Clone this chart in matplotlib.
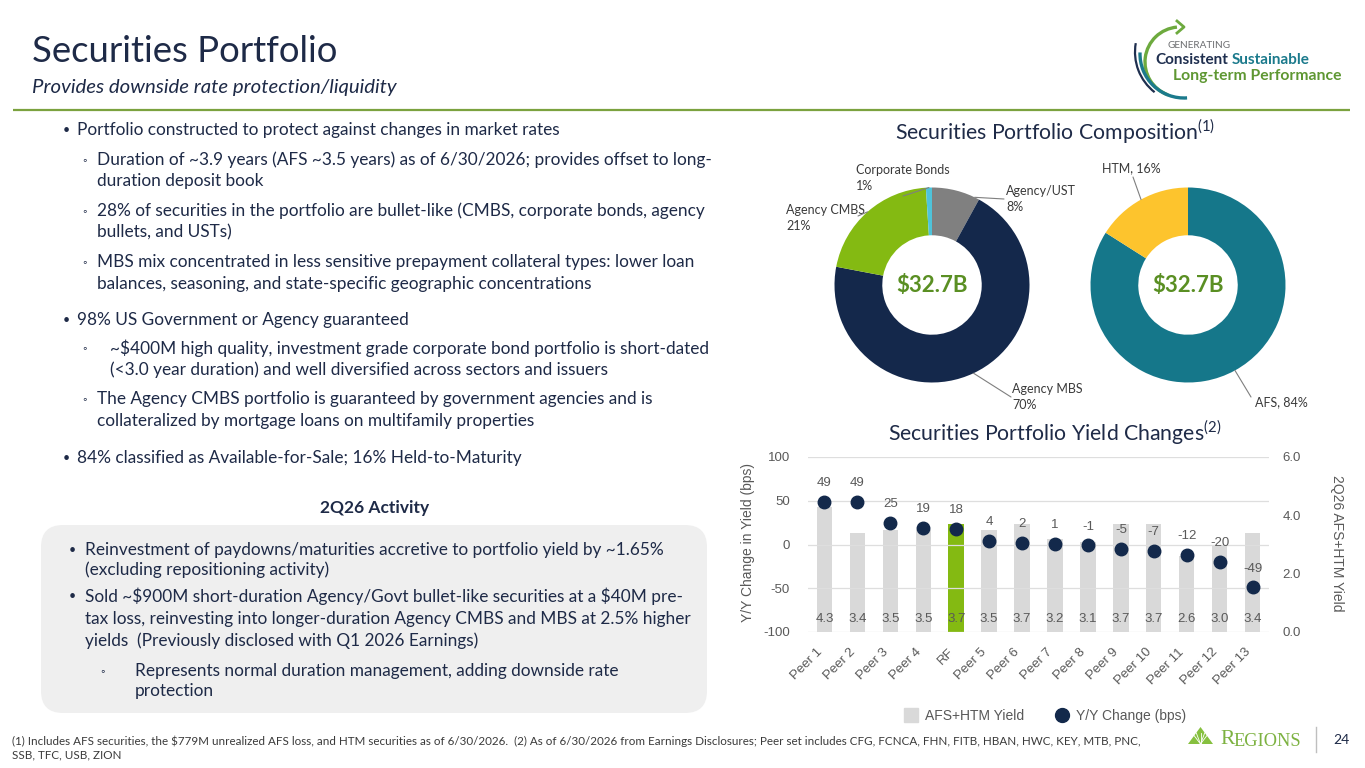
import numpy as np
import matplotlib
matplotlib.use("Agg")
import matplotlib.pyplot as plt
from matplotlib.patches import FancyBboxPatch, Arc, Polygon
from matplotlib.lines import Line2D

# ---------------------------------------------------------------------------
# Page setup (everything laid out in slide pixels, y measured from the top)
# ---------------------------------------------------------------------------
W, H = 1365, 768

plt.rcParams["font.family"] = ["Lato", "DejaVu Sans"]
plt.rcParams["mathtext.fontset"] = "custom"
plt.rcParams["mathtext.rm"] = "Lato"

NAVY     = "#1E2A47"
TEXT_DK  = "#3A3A3A"
TICK     = "#595959"
LINE_GRN = "#7BA23F"
BAR_GRAY = "#D9D9D9"
RF_GREEN = "#84BA12"
DOT      = "#13294B"
BOX_GRAY = "#EFEFEF"
CHART_FONT = ["Liberation Sans", "DejaVu Sans"]
BODY_SIZE = 12.4

# ---------------------------------------------------------------------------
# Data
# ---------------------------------------------------------------------------
COMP_LABELS = ["Agency/UST", "Agency MBS", "Agency CMBS", "Corporate Bonds"]
COMP_PCT    = [8, 70, 21, 1]
COMP_COLORS = ["#808080", "#14284B", "#84BA12", "#4EC3DA"]

SPLIT_LABELS = ["AFS", "HTM"]
SPLIT_PCT    = [84, 16]
SPLIT_COLORS = ["#15778A", "#FDC42D"]

TOTAL = "$32.7B"

PEERS = ["Peer 1", "Peer 2", "Peer 3", "Peer 4", "RF", "Peer 5", "Peer 6",
         "Peer 7", "Peer 8", "Peer 9", "Peer 10", "Peer 11", "Peer 12", "Peer 13"]
YIELD = [4.3, 3.4, 3.5, 3.5, 3.7, 3.5, 3.7, 3.2, 3.1, 3.7, 3.7, 2.6, 3.0, 3.4]
YOY   = [49, 49, 25, 19, 18, 4, 2, 1, -1, -5, -7, -12, -20, -49]

MAIN_BULLETS = [
    ("•", 63, 77, [(130, "Portfolio constructed to protect against changes in market rates")]),
    ("◦", 82, 97, [(160, "Duration of ~3.9 years (AFS ~3.5 years) as of 6/30/2026; provides offset to long-"),
                   (181, "duration deposit book")]),
    ("◦", 82, 97, [(211, "28% of securities in the portfolio are bullet-like (CMBS, corporate bonds, agency"),
                   (232, "bullets, and USTs)")]),
    ("◦", 82, 97, [(262, "MBS mix concentrated in less sensitive prepayment collateral types: lower loan"),
                   (284, "balances, seasoning, and state-specific geographic concentrations")]),
    ("•", 63, 77, [(320, "98% US Government or Agency guaranteed")]),
    ("◦", 82, 110, [(348, r"~\$400M high quality, investment grade corporate bond portfolio is short-dated"),
                    (370, "(<3.0 year duration) and well diversified across sectors and issuers")]),
    ("◦", 82, 97, [(399, "The Agency CMBS portfolio is guaranteed by government agencies and is"),
                   (421, "collateralized by mortgage loans on multifamily properties")]),
    ("•", 63, 77, [(458, "84% classified as Available-for-Sale; 16% Held-to-Maturity")]),
]

BOX_BULLETS = [
    ("•", 69, 85, [(550, "Reinvestment of paydowns/maturities accretive to portfolio yield by ~1.65%"),
                   (570, "(excluding repositioning activity)")]),
    ("•", 69, 85, [(596, r"Sold ~\$900M short-duration Agency/Govt bullet-like securities at a \$40M pre-"),
                   (619, "tax loss, reinvesting into longer-duration Agency CMBS and MBS at 2.5% higher"),
                   (641, "yields  (Previously disclosed with Q1 2026 Earnings)")]),
    ("◦", 100, 135, [(671, "Represents normal duration management, adding downside rate"),
                     (691, "protection")]),
]

FOOTNOTE = [
    r"(1) Includes AFS securities, the \$779M unrealized AFS loss, and HTM securities as of 6/30/2026.  "
    "(2) As of 6/30/2026 from Earnings Disclosures; Peer set includes CFG, FCNCA, FHN, FITB, HBAN, HWC, KEY, MTB, PNC,",
    "SSB, TFC, USB, ZION",
]


def px_box(x0, y0, x1, y1):
    """Slide pixel box -> figure fraction rect."""
    return [x0 / W, 1 - y1 / H, (x1 - x0) / W, (y1 - y0) / H]


fig = plt.figure(figsize=(W / 100, H / 100), dpi=100)
fig.patch.set_facecolor("white")

# full-page overlay in pixel units for text and decorations
ov = fig.add_axes([0, 0, 1, 1])
ov.set_xlim(0, W)
ov.set_ylim(H, 0)
ov.axis("off")

# ---------------------------------------------------------------------------
# Header
# ---------------------------------------------------------------------------
ov.text(32, 52, "Securities Portfolio", fontsize=26.3, color=NAVY, va="center")
ov.text(32, 88, "Provides downside rate protection/liquidity", fontsize=14.7,
        style="italic", color=NAVY, va="center")
ov.plot([13, 1350], [110, 110], color=LINE_GRN, lw=1.6, solid_capstyle="butt")

# "Generating consistent..." badge
ov.add_patch(Arc((1180, 62), 70, 70, theta1=110, theta2=265, color="#6DAA3E", lw=2.4))
ov.plot([1177, 1184, 1177], [21, 27, 33], color="#6DAA3E", lw=2.0)
ov.add_patch(Arc((1184, 54), 88, 88, theta1=86, theta2=182, color="#1B7A8C", lw=2.4))
ov.add_patch(Arc((1186, 52), 102, 102, theta1=128, theta2=190, color="#1F2F4F", lw=1.6))
ov.text(1167, 45, "GENERATING", fontsize=7.2, color="#6D6E71", va="center")
ov.text(1155, 60, "Consistent", fontsize=11, weight="bold", color="#1F2F4F", va="center")
ov.text(1232, 60, "Sustainable", fontsize=11, weight="bold", color="#1B7A8C", va="center")
ov.text(1173, 76, "Long-term Performance", fontsize=11.3, weight="bold", color="#5E9732", va="center")

# ---------------------------------------------------------------------------
# Left column text
# ---------------------------------------------------------------------------
def draw_bullets(items):
    for mark, mx, tx, lines in items:
        mark_size = 9 if mark == "•" else 8
        ov.text(mx, lines[0][0], mark, fontsize=mark_size, color=NAVY, va="center")
        for y, s in lines:
            ov.text(tx, y, s, fontsize=BODY_SIZE, color=NAVY, va="center")


draw_bullets(MAIN_BULLETS)

ov.text(375, 508, "2Q26 Activity", fontsize=12.5, weight="bold", color=NAVY,
        ha="center", va="center")
ov.add_patch(FancyBboxPatch((41, 525), 666, 188,
                            boxstyle="round,pad=0,rounding_size=22",
                            fc=BOX_GRAY, ec="none", zorder=0))
draw_bullets(BOX_BULLETS)

for i, s in enumerate(FOOTNOTE):
    ov.text(12, 741 + 14 * i, s, fontsize=8.35, color=TEXT_DK, va="center")

# Regions mark + page number
ov.add_patch(Polygon([(1188, 744), (1200.5, 727), (1213, 744)], closed=True,
                     fc="#86C03F", ec="none"))
for dx in (-6, -3, 0, 3, 6):
    ov.plot([1200.5, 1200.5 + dx * 1.4], [744, 733], color="white", lw=0.6)
ov.text(1220, 740, "R", fontsize=15.5, family=["Liberation Serif"], color="#7DB241", va="center")
ov.text(1233, 741, "EGIONS", fontsize=13.2, family=["Liberation Serif"], color="#7DB241", va="center")
ov.plot([1316, 1316], [727, 752], color="#BFBFBF", lw=1)
ov.text(1333, 740, "24", fontsize=10, color=NAVY, va="center")

# ---------------------------------------------------------------------------
# Donut charts
# ---------------------------------------------------------------------------
ov.text(1055, 132, r"Securities Portfolio Composition$^{(1)}$", fontsize=15.3,
        color=NAVY, ha="center", va="center")

R_PX = 97.5
LEADER = "#7F7F7F"


def donut(cx, cy, values, colors, labels, label_pos, leader_end, attach):
    ax = fig.add_axes(px_box(cx - R_PX, cy - R_PX, cx + R_PX, cy + R_PX))
    wedges, _ = ax.pie(values, colors=colors, startangle=90, counterclock=False,
                       radius=1.0, wedgeprops=dict(width=0.49, edgecolor="none"))
    ax.set_xlim(-1, 1)
    ax.set_ylim(-1, 1)
    ax.set_aspect("equal")
    ax.axis("off")
    for w, lab, v, (lx, ly), end, f in zip(wedges, labels, values, label_pos, leader_end, attach):
        ang = np.deg2rad(w.theta1 + f * (w.theta2 - w.theta1))
        ax.annotate("", xy=(np.cos(ang), np.sin(ang)), xycoords="data",
                    xytext=end, textcoords=ov.transData,
                    arrowprops=dict(arrowstyle="-", color=LEADER, lw=0.8,
                                    shrinkA=0, shrinkB=0))
        ov.text(lx, ly, lab.format(v=v), fontsize=9, color=TEXT_DK,
                ha="left", va="center", linespacing=1.35)
    ax.text(0, 0, TOTAL, fontsize=16, weight="bold", color="#5A8F23",
            ha="center", va="center")
    return ax


donut(932, 285, COMP_PCT, COMP_COLORS,
      [l + "\n{v}%" for l in COMP_LABELS],
      label_pos=[(1006, 199), (1012, 397), (786, 218), (856, 178)],
      leader_end=[(1004, 199), (1011, 397), (858, 216), (903, 196)],
      attach=[0.1, 0.5, 0.5, 0.5])

donut(1188, 285, SPLIT_PCT, SPLIT_COLORS,
      [l + ", {v}%" for l in SPLIT_LABELS],
      label_pos=[(1255, 402), (1102, 168)],
      leader_end=[(1251, 397), (1133, 177)],
      attach=[0.5, 0.5])

# ---------------------------------------------------------------------------
# Yield change combo chart
# ---------------------------------------------------------------------------
ov.text(1055, 433, r"Securities Portfolio Yield Changes$^{(2)}$", fontsize=15.3,
        color=NAVY, ha="center", va="center")

ax = fig.add_axes(px_box(808, 457, 1269, 632))
ax2 = ax.twinx()
x = np.arange(len(PEERS))

bar_colors = [RF_GREEN if p == "RF" else BAR_GRAY for p in PEERS]
ax2.bar(x, YIELD, width=0.47, color=bar_colors)
for xi, y in zip(x, YIELD):
    ax2.text(xi, 0.45, f"{y:.1f}", ha="center", va="center", fontsize=9.5,
             color=TICK, family=CHART_FONT)
ax2.set_ylim(0, 6)
ax2.set_yticks([0, 2, 4, 6])
ax2.set_yticklabels([f"{t:.1f}" for t in [0, 2, 4, 6]], family=CHART_FONT)

ax.plot(x, YOY, "o", ms=9, color=DOT, zorder=3)
for xi, v in zip(x, YOY):
    ax.annotate(f"{v}", (xi, v), xytext=(0, 13.5), textcoords="offset points",
                ha="center", va="center", fontsize=9.5, color=TICK, family=CHART_FONT)
ax.set_ylim(-100, 100)
ax.set_xlim(-0.5, len(PEERS) - 0.5)
ax.set_yticks([-100, -50, 0, 50, 100])
ax.set_yticklabels([str(t) for t in [-100, -50, 0, 50, 100]], family=CHART_FONT)
ax.set_xticks(x)
ax.set_xticklabels(PEERS, rotation=45, ha="right", family=CHART_FONT)
ax.grid(axis="y", color="#DEDEDE", lw=0.9)
ax.set_axisbelow(True)

ax.set_zorder(ax2.get_zorder() + 1)
ax.patch.set_visible(False)
for a in (ax, ax2):
    for sp in a.spines.values():
        sp.set_visible(False)
ax.tick_params(axis="y", length=0, labelsize=9.5, labelcolor=TICK, pad=13)
ax.tick_params(axis="x", length=0, labelsize=9.5, labelcolor=TICK, pad=10)
ax2.tick_params(axis="y", length=0, labelsize=9.5, labelcolor=TICK, pad=9.5)

ov.text(748, 542, "Y/Y Change in Yield (bps)", rotation=90, fontsize=10,
        color=TICK, ha="center", va="center", family=CHART_FONT)
ov.text(1337, 543, "2Q26 AFS+HTM Yield", rotation=270, fontsize=10,
        color=TICK, ha="center", va="center", family=CHART_FONT)

handles = [Line2D([], [], marker="s", ms=10, color=BAR_GRAY, ls="none"),
           Line2D([], [], marker="o", ms=10, color=DOT, ls="none")]
ov.legend(handles, ["AFS+HTM Yield", "Y/Y Change (bps)"], loc="center",
          bbox_to_anchor=(1045, 716), bbox_transform=ov.transData, ncol=2,
          frameon=False, handlelength=1.0, handletextpad=0.5, columnspacing=2.2,
          prop={"family": CHART_FONT, "size": 10}, labelcolor=TICK)

fig.savefig("out.png", dpi=100)
